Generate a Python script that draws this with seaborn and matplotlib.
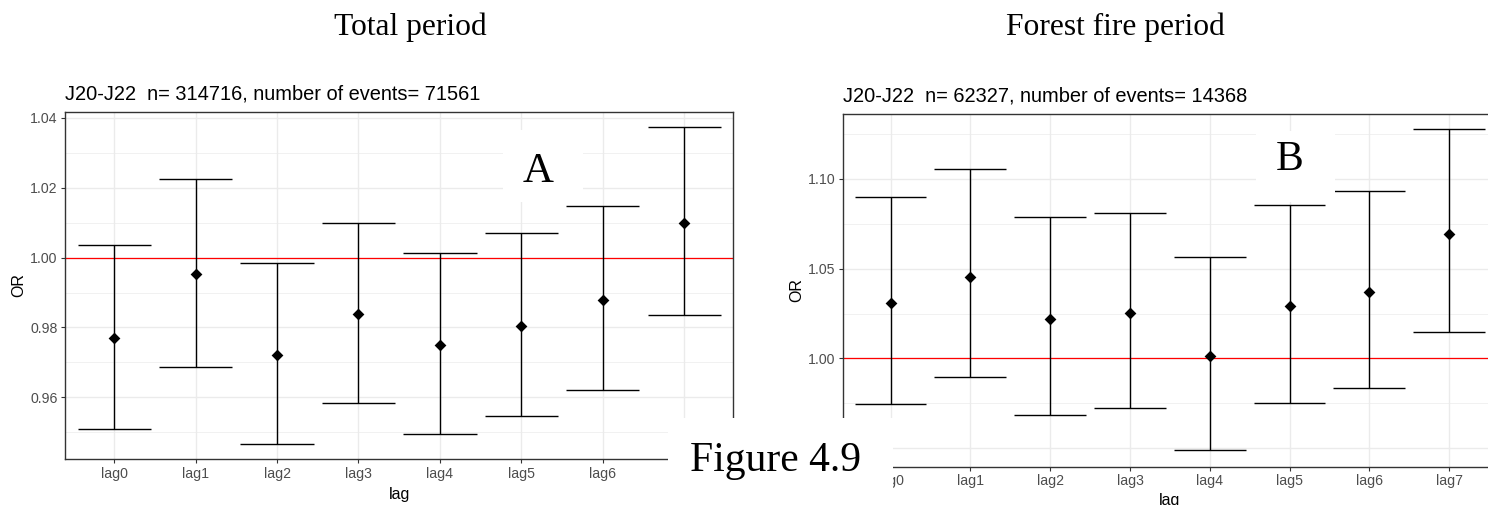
import numpy as np
import matplotlib
matplotlib.use("Agg")
import matplotlib.pyplot as plt
from matplotlib.patches import Rectangle
from matplotlib.ticker import FixedLocator
import seaborn as sns

# Odds ratios with 95% confidence limits by lag, J20-J22
lags = ["lag0", "lag1", "lag2", "lag3", "lag4", "lag5", "lag6", "lag7"]

total_or = [0.9770, 0.9954, 0.9720, 0.9839, 0.9749, 0.9804, 0.9880, 1.0100]
total_lo = [0.9510, 0.9688, 0.9467, 0.9585, 0.9495, 0.9547, 0.9620, 0.9836]
total_hi = [1.0035, 1.0225, 0.9984, 1.0100, 1.0012, 1.0071, 1.0147, 1.0373]

fire_or = [1.0307, 1.0455, 1.0221, 1.0253, 1.0013, 1.0292, 1.0369, 1.0695]
fire_lo = [0.9747, 0.9894, 0.9684, 0.9721, 0.9487, 0.9753, 0.9836, 1.0147]
fire_hi = [1.0900, 1.1054, 1.0787, 1.0812, 1.0565, 1.0855, 1.0933, 1.1277]

total_title = "J20-J22  n= 314716, number of events= 71561"
fire_title = "J20-J22  n= 62327, number of events= 14368"

sns.set_style("whitegrid")
plt.rcParams["font.family"] = ["Liberation Sans", "DejaVu Sans"]
plt.rcParams["text.color"] = "black"
SERIF = ["Liberation Serif", "DejaVu Serif"]

W, H = 1488, 505
fig = plt.figure(figsize=(W / 100, H / 100), dpi=100)
fig.patch.set_facecolor("white")


def fx(px):
    return px / W


def fy(py):
    return 1 - py / H


def panel(box, odds, lo, hi, ylim, major, minor, title, title_pad, ylab_x, xlab_y):
    left, top, right, bottom = box
    ax = fig.add_axes([fx(left), fy(bottom), (right - left) / W, (bottom - top) / H])
    ax.set_facecolor("white")
    pos = np.arange(len(lags))
    odds = np.asarray(odds)
    lo = np.asarray(lo)
    hi = np.asarray(hi)

    ax.axhline(1.0, color="#FF0000", lw=0.9, zorder=2)
    ax.vlines(pos, lo, hi, color="black", lw=1.0, zorder=2.5)
    ax.hlines(lo, pos - 0.45, pos + 0.45, color="black", lw=1.0, zorder=2.5)
    ax.hlines(hi, pos - 0.45, pos + 0.45, color="black", lw=1.0, zorder=2.5)
    sns.scatterplot(x=pos, y=odds, marker="D", s=36, color="black",
                    linewidth=0, ax=ax, zorder=3, legend=False)

    ax.set_xlim(-0.6, len(lags) - 0.4)
    ax.set_ylim(*ylim)
    ax.xaxis.set_major_locator(FixedLocator(pos))
    ax.set_xticklabels(lags)
    ax.yaxis.set_major_locator(FixedLocator(major))
    ax.yaxis.set_minor_locator(FixedLocator(minor))
    ax.set_yticklabels([f"{v:.2f}" for v in major])

    ax.set_axisbelow(True)
    ax.grid(which="major", color="#EBEBEB", lw=1.0)
    ax.grid(which="minor", axis="y", color="#EBEBEB", lw=0.5)
    for sp in ax.spines.values():
        sp.set_visible(True)
        sp.set_color("#333333")
        sp.set_linewidth(1.0)

    ax.tick_params(which="major", length=3, width=0.8, color="#333333",
                   labelsize=10.2, labelcolor="#4D4D4D", pad=2.5,
                   left=True, bottom=True)
    ax.tick_params(which="minor", length=0)

    ax.set_title(title, loc="left", fontsize=14.4, pad=title_pad, color="black")
    ax.set_ylabel("OR", fontsize=11.5, color="black", va="center", ha="center")
    ax.yaxis.set_label_coords(ylab_x, 0.5)
    ax.set_xlabel("lag", fontsize=11.5, color="black", va="baseline", ha="center")
    ax.xaxis.set_label_coords(0.5, xlab_y)
    return ax


box_a = (65.3, 111.7, 733.0, 459.0)
box_b = (842.7, 113.7, 1497.0, 466.7)

ax_a = panel(box_a, total_or, total_lo, total_hi, (0.9424, 1.0417),
             [0.96, 0.98, 1.00, 1.02, 1.04], [0.95, 0.97, 0.99, 1.01, 1.03],
             total_title, 8.9,
             (19 - box_a[0]) / (box_a[2] - box_a[0]),
             -(499 - box_a[3]) / (box_a[3] - box_a[1]))

ax_b = panel(box_b, fire_or, fire_lo, fire_hi, (0.9396, 1.1364),
             [0.95, 1.00, 1.05, 1.10], [0.975, 1.025, 1.075, 1.125],
             fire_title, 8.6,
             (796.7 - box_b[0]) / (box_b[2] - box_b[0]),
             -(505.5 - box_b[3]) / (box_b[3] - box_b[1]))


def white_box(x0, y0, x1, y1):
    fig.add_artist(Rectangle((fx(x0), fy(y1)), (x1 - x0) / W, (y1 - y0) / H,
                             transform=fig.transFigure, facecolor="white",
                             edgecolor="none", zorder=5))


# Panel headings
fig.text(fx(410.5), fy(35), "Total period", family=SERIF, fontsize=22.7,
         ha="center", va="baseline", color="black")
fig.text(fx(1115), fy(35), "Forest fire period", family=SERIF, fontsize=22.7,
         ha="center", va="baseline", color="black")

# Panel letters
white_box(503, 130, 583, 202)
fig.text(fx(538.5), fy(181.7), "A", family=SERIF, fontsize=31,
         ha="center", va="baseline", zorder=6, color="black")
white_box(1256, 131, 1335, 202)
fig.text(fx(1290), fy(170), "B", family=SERIF, fontsize=30,
         ha="center", va="baseline", zorder=6, color="black")

# Figure caption
white_box(668, 418, 893, 505)
fig.text(fx(776), fy(470.7), "Figure 4.9", family=SERIF, fontsize=30,
         ha="center", va="baseline", zorder=6, color="black")

fig.savefig("out.png", dpi=100, facecolor="white")
